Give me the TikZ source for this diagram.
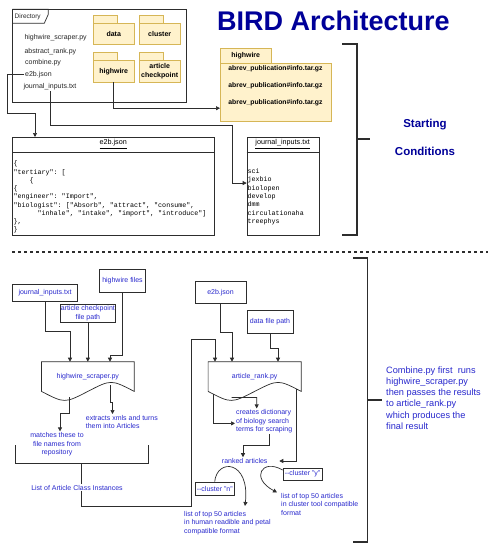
\documentclass[tikz,border=0pt]{standalone}
\usepackage{fontspec}
\setmainfont{Liberation Sans}
\setmonofont{Liberation Mono}
\usepackage{tikz}
\usetikzlibrary{positioning, arrows.meta, calc}
\definecolor{TitleBlue}{RGB}{0,0,153}
\definecolor{FlowBlue}{RGB}{40,40,205}
\definecolor{FoldFill}{RGB}{255,242,204}
\definecolor{FoldLine}{RGB}{214,182,86}
\definecolor{LineGray}{RGB}{45,45,45}
\tikzset{
  dirtxt/.style={anchor=west, inner sep=1pt, font=\fontsize{7}{8}\selectfont, text=black!85},
  fold/.style={draw=FoldLine, fill=FoldFill, anchor=north west, inner sep=0pt, align=center,
    font=\fontsize{7}{8.4}\selectfont\bfseries},
  foldtab/.style={draw=FoldLine, fill=FoldFill, anchor=south west, inner sep=0pt,
    font=\fontsize{7}{8}\selectfont\bfseries},
  pubtxt/.style={inner sep=0pt, font=\fontsize{6.8}{8}\selectfont\bfseries},
  listbox/.style={draw=LineGray, line width=0.7pt, anchor=north west, inner sep=0pt},
  boxtitle/.style={inner sep=0pt, font=\fontsize{7.2}{8}\selectfont},
  mono/.style={anchor=mid west, inner sep=0pt, font=\ttfamily\fontsize{6.7}{8}\selectfont},
  flowbox/.style={draw=LineGray, line width=0.7pt, inner sep=0pt, align=center, text=FlowBlue,
    font=\fontsize{7}{9}\selectfont},
  flowtxt/.style={inner sep=1pt, align=center, text=FlowBlue, font=\fontsize{7}{8.5}\selectfont},
  docnode/.style={anchor=north, inner sep=0pt, minimum height=29.3pt, text=FlowBlue,
    font=\fontsize{7}{8}\selectfont},
  arr/.style={-{Triangle[length=4pt,width=4pt]}, line width=0.7pt, LineGray},
  brk/.style={line width=1.2pt, LineGray},
}
\newcommand{\docoutline}[1]{%
  \draw[line width=0.7pt, LineGray] (#1.north west) -- (#1.north east) -- (#1.south east)
    .. controls ([shift={(-23.1,-12)}]#1.south east) .. (#1.south)
    .. controls ([shift={(23.1,12)}]#1.south west) .. (#1.south west) -- cycle;}

\begin{document}
\begin{tikzpicture}[x=1pt, y=-1pt, sep/.style={line width=1.1pt, LineGray, dash pattern=on 3pt off 3pt}]
  \fill[white] (0,0) rectangle (494,550);
  \useasboundingbox (0,0) rectangle (494,550);

  \node[font=\fontsize{27}{30}\selectfont\bfseries, text=TitleBlue, anchor=base, inner sep=0pt] (title) at (333.5,30) {BIRD Architecture};

  \node[listbox, minimum width=173.4pt, minimum height=92.4pt] (dir) at (12.3,9.3) {};
  \draw[line width=0.7pt, LineGray] (dir.north west) -- ++(36,0) -- ++(0,5) -- ++(-4,9) -- ++(-32,0);
  \node[dirtxt, font=\fontsize{6.5}{8}\selectfont] (dirl) at (13.5,17) {Directory};
  \node[dirtxt] (f1) at (23.3,37.3) {highwire\_scraper.py};
  \node[dirtxt] (f2) at (23.3,51.7) {abstract\_rank.py};
  \node[dirtxt] (f3) at (24,63) {combine.py};
  \node[dirtxt] (f4) at (24,74.7) {e2b.json};
  \node[dirtxt] (f5) at (22.3,86.7) {journal\_inputs.txt};

  \node[fold, minimum width=41pt, minimum height=21pt] (fdata) at (93,23) {data};
  \node[foldtab, minimum width=24pt, minimum height=8pt] (tdata) at (fdata.north west) {};
  \node[fold, minimum width=41pt, minimum height=21pt] (fclu) at (139,23) {cluster};
  \node[foldtab, minimum width=24pt, minimum height=8pt] (tclu) at (fclu.north west) {};
  \node[fold, minimum width=41pt, minimum height=22pt] (fhw) at (93,60) {highwire};
  \node[foldtab, minimum width=24pt, minimum height=8pt] (thw) at (fhw.north west) {};
  \node[fold, minimum width=41pt, minimum height=22pt] (fckp) at (139,60) {article\\checkpoint};
  \node[foldtab, minimum width=24pt, minimum height=8pt] (tckp) at (fckp.north west) {};

  \node[fold, minimum width=111pt, minimum height=58pt] (bigb) at (220,63) {};
  \node[foldtab, minimum width=51pt, minimum height=15pt] (bigt) at (bigb.north west) {highwire};
  \foreach \k in {0,1,2}
    \node[pubtxt] (pub\k) at (275.5,{69+17*\k}) {abrev\_publication\#info.tar.gz};

  \node[listbox, minimum width=202pt, minimum height=98pt] (e2bbox) at (12.3,137) {};
  \draw[line width=0.7pt, LineGray] ([yshift=-15pt]e2bbox.north west) -- ([yshift=-15pt]e2bbox.north east);
  \node[boxtitle] (e2bt) at (113.2,144) {\underline{e2b.json}};
  \foreach \t [count=\k from 0] in {{\{}, {"tertiary": [}, {\phantom{0000}\{}, {\{},
      {"engineer": "Import",}, {"biologist": ["Absorb", "attract", "consume",},
      {\phantom{000000}"inhale", "intake", "import", "introduce"]}, {\},}, {\}}}
    \node[mono] (js\k) at (13.3,{163.3+8.25*\k}) {\t};

  \node[listbox, minimum width=72pt, minimum height=98pt] (jbox) at (246.7,137) {};
  \draw[line width=0.7pt, LineGray] ([yshift=-15pt]jbox.north west) -- ([yshift=-15pt]jbox.north east);
  \node[boxtitle] (jbt) at (282.7,144) {\underline{journal\_inputs.txt}};
  \foreach \t [count=\k from 0] in {sci,jexbio,biolopen,develop,dmm,circulationaha,treephys}
    \node[mono] (jr\k) at (247.3,{171+8.33*\k}) {\t};

  \draw[arr] (fhw.south) |- ([yshift=-16pt]bigb.west);
  \draw[arr] (f4.west) -- ++(-17,0) |- (35,113) -- ([xshift=22.7pt]e2bbox.north west);
  \draw[arr] (f5.south) |- (232,125) |- ([yshift=3.3pt]jbox.west);

  \draw[brk] (342,44) -| (357,235) -- (342,235);
  \draw[brk] (357,139) -- (370,139);
  \node[font=\fontsize{11.5}{13}\selectfont\bfseries, text=TitleBlue, anchor=base, inner sep=0pt] (start1) at (425,127.7) {Starting};
  \node[font=\fontsize{11.5}{13}\selectfont\bfseries, text=TitleBlue, anchor=base, inner sep=0pt] (start2) at (425,155) {Conditions};

  \draw[sep] (12,252) -- (488,252);

  \draw[brk] (353,258) -| (367.5,542) -- (353,542);
  \draw[brk] (367.5,400) -- (382,400);
  \node[anchor=north west, align=left, inner sep=0pt, text=FlowBlue, font=\fontsize{9.2}{11.2}\selectfont] (comb) at (386,366.4)
    {Combine.py first\ \ runs\\highwire\_scraper.py\\then passes the results\\to article\_rank.py\\which produces the\\final result};

  \node[flowbox, minimum width=64.6pt, minimum height=17.7pt] (jin) at (45,292.8) {journal\_inputs.txt};
  \node[flowbox, minimum width=55.7pt, minimum height=18pt] (ckp) at (87.85,313.3) {article checkpoint\\file path};
  \node[flowbox, minimum width=46.4pt, minimum height=23.4pt] (hwf) at (122.5,281) {highwire files};
  \node[docnode, minimum width=92.3pt] (scr) at (87.85,361.7) {highwire\_scraper.py};
  \docoutline{scr}

  \node[flowbox, minimum width=51pt, minimum height=22.5pt] (e2bf) at (220.5,292.25) {e2b.json};
  \node[flowbox, minimum width=46pt, minimum height=23pt] (dfp) at (270,321.5) {data file path};
  \node[docnode, minimum width=92.7pt] (rank) at (254.65,361.7) {article\_rank.py};
  \docoutline{rank}

  \draw[arr] (jin.south) |- (70,331.7) -- ([xshift=-17.85pt]scr.north);
  \draw[arr] (ckp.south) -- (scr.north);
  \draw[arr] (hwf.south) |- (110,355) -- ([xshift=22.15pt]scr.north);
  \draw[arr] (e2bf.south) |- (232,332) -- ([xshift=-22.65pt]rank.north);
  \draw[arr] (dfp.south) |- (278,348) -- ([xshift=23.35pt]rank.north);

  \node[flowtxt, anchor=north] (mtch) at (57,431.4) {matches these to\\file names from\\repository};
  \node[flowtxt, anchor=north west, align=left] (extr) at (84.7,414) {extracts xmls and turns\\them into Articles};
  \draw[arr] ([shift={(-18.85,5.8)}]scr.south) |- (60,413) -- ([xshift=3pt]mtch.north);
  \draw[arr] ([shift={(22.15,-6)}]scr.south) -- ++(0,17) -- ++(2.5,0) -- ([xshift=27.8pt]extr.north west);

  \draw[brk, line width=0.8pt] (15,445) |- (148.3,463.3) -- (148.3,445);
  \coordinate (brkmid) at (81.7,463.3);
  \draw[arr] (brkmid) |- (191.7,506.7) |- (215,339.3) -- ([xshift=-39.65pt]rank.north);
  \node[flowtxt, fill=white] (lis) at (77,487.7) {List of Article Class Instances};

  \node[flowtxt, anchor=north west, align=left] (crt) at (235,408.4) {creates dictionary\\of biology search\\terms for scraping};
  \node[flowtxt] (rnk) at (244.7,461) {ranked articles};
  \draw[arr] ([shift={(-23,6)}]rank.south) -- ++(25,0) -- ([xshift=21.7pt]crt.north west);
  \draw[arr] ([shift={(-41.35,2.3)}]rank.south) |- ([yshift=-2pt]crt.west);
  \draw[arr] ([xshift=5pt]crt.south) |- (243,445) -- ([xshift=-1.7pt]rnk.north);
  \draw[arr] ([shift={(41.35,-2.3)}]rank.south) |- ([xshift=10.6pt]rnk.east);

  \node[flowbox, minimum width=39.5pt, minimum height=13pt] (cn) at (214.7,488.5) {-{}-cluster "n"};
  \node[flowbox, minimum width=39pt, minimum height=12pt] (cy) at (302.5,474) {-{}-cluster "y"};
  \node[flowtxt, anchor=north west, align=left] (lhum) at (183,510) {list of top 50 articles\\in human readible and petal\\compatible format};
  \node[flowtxt, anchor=north west, align=left, font=\fontsize{7}{8.3}\selectfont] (lcl) at (280,492.4) {list of top 50 articles\\in cluster tool compatible\\format};
  \draw[arr] (cn.north) .. controls (217,458) and (250,460) .. ([shift={(62,-4)}]lhum.north west);
  \draw[arr] ([yshift=4pt]cy.west) .. controls (262,458) and (250,478) .. ([xshift=-3pt]lcl.north west);
\end{tikzpicture}
\end{document}
